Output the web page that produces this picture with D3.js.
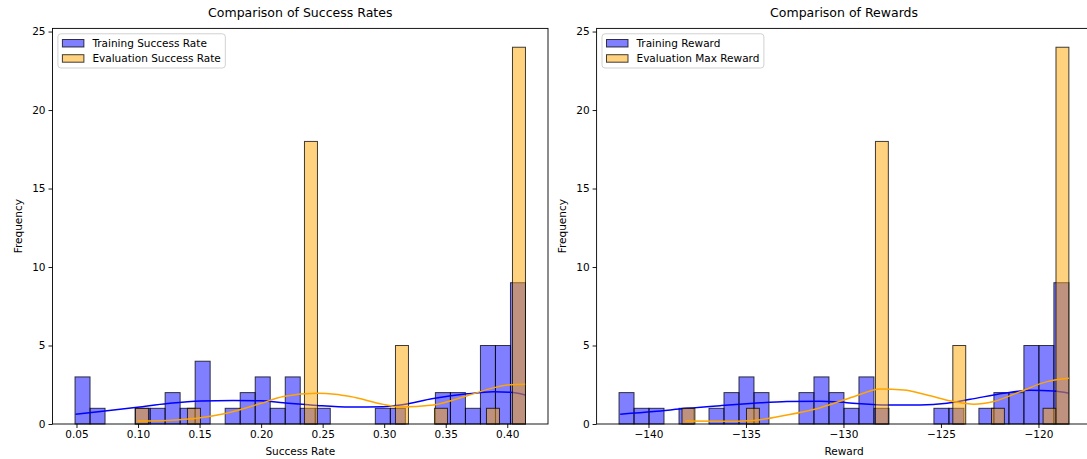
<!DOCTYPE html>
<html><head><meta charset="utf-8">
<script src="https://cdn.jsdelivr.net/npm/d3@7"></script>
<style>body{margin:0;background:#fff}svg{display:block;font-family:"DejaVu Sans",sans-serif}</style>
</head><body><svg id="c" width="1087" height="459"></svg>
<script>
// ---- Data ----
const successTicks = [0.05, 0.10, 0.15, 0.20, 0.25, 0.30, 0.35, 0.40];
const rewardTicks = [-140, -135, -130, -125, -120];
const freqTicks = [0, 5, 10, 15, 20, 25];

const trainSuccessRange = [0.0488, 0.4148];
const trainSuccessCounts = [3,1,0,0,1,1,2,1,4,0,1,2,3,1,3,1,1,0,0,0,1,1,0,0,2,2,1,5,5,9];
const evalSuccessRange = [0.0979, 0.4148];
const evalSuccessCounts = [1,0,0,0,1,0,0,0,0,0,0,0,0,18,0,0,0,0,0,0,5,0,0,1,0,0,0,1,0,24];

const trainRewardRange = [-141.51, -118.44];
const trainRewardCounts = [2,1,1,0,1,0,1,2,3,2,0,0,2,3,2,1,3,1,0,0,0,1,1,0,1,2,2,5,5,9];
const evalRewardRange = [-138.28, -118.44];
const evalRewardCounts = [1,0,0,0,0,1,0,0,0,0,0,0,0,0,0,18,0,0,0,0,0,5,0,0,1,0,0,0,1,24];

// KDE curves (count scale)
const trainSuccessKdeX = [0.0492,0.0695,0.0995,0.1239,0.1507,0.1775,0.1994,0.2181,0.2457,0.2725,0.2993,0.3131,0.3399,0.3675,0.3886,0.4024,0.4146];
const trainSuccessKdeY = [0.62,0.79,1.06,1.30,1.47,1.50,1.48,1.36,1.18,1.08,1.10,1.21,1.62,1.92,2.05,2.02,1.85];
const evalSuccessKdeX = [0.0995,0.1239,0.1507,0.1700,0.1994,0.2181,0.2457,0.2600,0.2725,0.2993,0.3131,0.3399,0.3675,0.3886,0.4024,0.4146];
const evalSuccessKdeY = [0.19,0.23,0.40,0.65,1.30,1.75,1.96,1.90,1.75,1.25,1.08,1.21,1.80,2.30,2.50,2.53];

const trainRewardKdeX = [-141.45,-139.73,-138.03,-136.32,-134.6,-132.9,-131.19,-129.82,-127.77,-126.06,-124.69,-123.5,-121.78,-120.42,-119.22,-118.44];
const trainRewardKdeY = [0.62,0.79,1.00,1.17,1.32,1.43,1.45,1.36,1.21,1.21,1.32,1.57,1.96,2.15,2.10,1.96];
const evalRewardKdeX = [-138.11,-136.32,-134.6,-132.9,-131.19,-129.48,-128.11,-126.91,-125.72,-124.35,-123.32,-122.3,-120.93,-119.56,-118.44];
const evalRewardKdeY = [0.19,0.17,0.23,0.57,1.04,1.74,2.23,2.17,1.85,1.43,1.26,1.43,2.06,2.70,2.91];

// ---- Drawing ----
const svg = d3.select("#c");
const yTop = 28.4, yBot = 424;
const FONT = 10.5;

function panel(o) {
  const g = svg.append("g");
  const x = d3.scaleLinear().domain(o.domain).range(o.range);
  const y = d3.scaleLinear().domain([0, 25.2]).range([yBot, yTop]);

  function hist(counts, rng, color) {
    const w = (rng[1] - rng[0]) / counts.length;
    const bins = counts.map((c, i) => ({c, a: rng[0] + i * w, b: rng[0] + (i + 1) * w})).filter(d => d.c > 0);
    g.append("g").selectAll("rect").data(bins).join("rect")
      .attr("x", d => x(d.a)).attr("width", d => x(d.b) - x(d.a))
      .attr("y", d => y(d.c)).attr("height", d => y(0) - y(d.c))
      .attr("fill", color).attr("fill-opacity", 0.5)
      .attr("stroke", "#000").attr("stroke-opacity", 0.75).attr("stroke-width", 1);
  }
  function kde(xs, ys, color) {
    const line = d3.line().x(d => x(d[0])).y(d => y(d[1])).curve(d3.curveMonotoneX);
    g.append("path").attr("d", line(xs.map((v, i) => [v, ys[i]])))
      .attr("fill", "none").attr("stroke", color).attr("stroke-width", 1.5);
  }
  hist(o.trainCounts, o.trainRange, "blue");
  kde(o.trainKdeX, o.trainKdeY, "blue");
  hist(o.evalCounts, o.evalRange, "orange");
  kde(o.evalKdeX, o.evalKdeY, "orange");

  // frame
  g.append("rect").attr("x", o.range[0]).attr("y", yTop).attr("width", o.range[1] - o.range[0]).attr("height", yBot - yTop)
    .attr("fill", "none").attr("stroke", "#000").attr("stroke-width", 0.9);

  const ax = g.append("g").attr("transform", `translate(0,${yBot})`)
    .call(d3.axisBottom(x).tickValues(o.xTicks).tickFormat(o.fmt).tickSize(4).tickPadding(3));
  const ay = g.append("g").attr("transform", `translate(${o.range[0]},0)`)
    .call(d3.axisLeft(y).tickValues(freqTicks).tickFormat(d3.format("d")).tickSize(4).tickPadding(3));
  [ax, ay].forEach(a => {
    a.select(".domain").remove();
    a.selectAll("text").attr("font-size", FONT).attr("fill", "#000").attr("font-family", "DejaVu Sans");
    a.selectAll("line").attr("stroke", "#000").attr("stroke-width", 0.9);
  });

  const cx = (o.range[0] + o.range[1]) / 2;
  g.append("text").attr("x", cx).attr("y", 17).attr("text-anchor", "middle").attr("font-size", 12.5).text(o.title);
  g.append("text").attr("x", cx).attr("y", 455).attr("text-anchor", "middle").attr("font-size", FONT).text(o.xLabel);
  g.append("text").attr("transform", `translate(${o.range[0] - 31},${(yTop + yBot) / 2}) rotate(-90)`)
    .attr("text-anchor", "middle").attr("font-size", FONT).text("Frequency");

  // legend
  const lx = o.range[0] + 5.4, ly = yTop + 5.4;
  const lg = g.append("g");
  const frame = lg.append("rect").attr("x", lx).attr("y", ly).attr("rx", 3)
    .attr("fill", "#fff").attr("fill-opacity", 0.8).attr("stroke", "#ccc").attr("stroke-width", 0.9);
  let maxW = 0;
  o.legend.forEach((lab, i) => {
    const ry = ly + 9.5 + i * 15.2;
    lg.append("rect").attr("x", lx + 4.5).attr("y", ry - 3.8).attr("width", 21.5).attr("height", 7.5)
      .attr("fill", i === 0 ? "blue" : "orange").attr("fill-opacity", 0.5)
      .attr("stroke", "#000").attr("stroke-opacity", 0.75).attr("stroke-width", 1);
    const t = lg.append("text").attr("x", lx + 34.5).attr("y", ry + 3.8).attr("font-size", FONT).text(lab);
    maxW = Math.max(maxW, t.node().getComputedTextLength());
  });
  frame.attr("width", 34.5 + maxW + 4.5).attr("height", 9.5 + 15.2 + 9.5);
}

panel({
  domain: [0.0305, 0.4331], range: [52.5, 548],
  xTicks: successTicks, fmt: d3.format(".2f"),
  trainCounts: trainSuccessCounts, trainRange: trainSuccessRange,
  evalCounts: evalSuccessCounts, evalRange: evalSuccessRange,
  trainKdeX: trainSuccessKdeX, trainKdeY: trainSuccessKdeY,
  evalKdeX: evalSuccessKdeX, evalKdeY: evalSuccessKdeY,
  title: "Comparison of Success Rates", xLabel: "Success Rate",
  legend: ["Training Success Rate", "Evaluation Success Rate"]
});
panel({
  domain: [-142.66, -117.28], range: [596.6, 1091.5],
  xTicks: rewardTicks, fmt: d3.format("d"),
  trainCounts: trainRewardCounts, trainRange: trainRewardRange,
  evalCounts: evalRewardCounts, evalRange: evalRewardRange,
  trainKdeX: trainRewardKdeX, trainKdeY: trainRewardKdeY,
  evalKdeX: evalRewardKdeX, evalKdeY: evalRewardKdeY,
  title: "Comparison of Rewards", xLabel: "Reward",
  legend: ["Training Reward", "Evaluation Max Reward"]
});
</script></body></html>
